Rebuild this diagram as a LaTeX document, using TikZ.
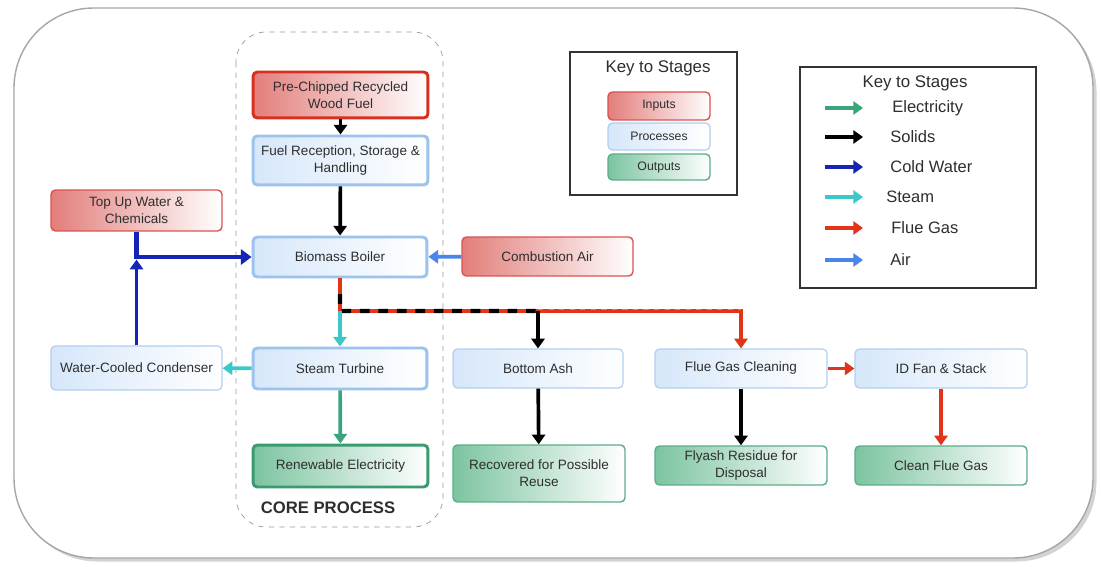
\documentclass[tikz,border=0pt]{standalone}
\usepackage{fontspec}
\setmainfont{Liberation Sans}
\usetikzlibrary{arrows.meta, positioning, shadows, calc}

\definecolor{inred}{HTML}{D9534F}
\definecolor{indark}{HTML}{D8301E}
\definecolor{procblue}{HTML}{9CC3EE}
\definecolor{procfill}{HTML}{D6E7FA}
\definecolor{outgreen}{HTML}{5BAE88}
\definecolor{outdark}{HTML}{3A9A70}
\definecolor{outfill}{HTML}{7CC4A0}
\definecolor{elecc}{HTML}{3AA57A}
\definecolor{coldc}{HTML}{1424B4}
\definecolor{steamc}{HTML}{3CC8C8}
\definecolor{fluec}{HTML}{E2341A}
\definecolor{airc}{HTML}{4A86E8}
\definecolor{txt}{HTML}{2E2E2E}

\tikzset{
  stage/.style={rounded corners=2.5pt, align=center, text=txt, inner sep=2pt,
    minimum width=3.44cm, minimum height=0.8cm, font=\fontsize{7.7}{9.5}\selectfont},
  inbox/.style={stage, draw=inred, line width=0.8pt, left color=inred!75, right color=white},
  procbox/.style={stage, draw=procblue!80, line width=0.7pt, left color=procfill, right color=white},
  outbox/.style={stage, draw=outgreen, line width=0.8pt, left color=outfill, right color=white},
  core/.style={line width=1.7pt},
  flow/.style={line width=2.1pt, -{Triangle[length=5.5pt, width=7.5pt]}},
  keytitle/.style={font=\fontsize{9.6}{11}\selectfont, text=txt},
  keylabel/.style={font=\fontsize{9.4}{11}\selectfont, text=txt, anchor=west, inner sep=0pt}
}

\begin{document}
\begin{tikzpicture}[x=0.02cm, y=-0.02cm]
    \useasboundingbox (0,0) rectangle (1101,567);
    \draw[black!35, line width=0.8pt, fill=white, rounded corners=1.6cm,
          drop shadow={shadow xshift=2pt, shadow yshift=-2pt, opacity=0.35}] (14,8) rectangle (1093,558);

    % core process frame
    \draw[black!40, dashed, rounded corners=0.6cm] (236,32) rectangle (443,527);
    \node[font=\bfseries\fontsize{9.5}{11}\selectfont, text=txt] (corelbl) at (328,508) {CORE PROCESS};

    % stages
    \node[inbox, core, draw=indark, minimum width=3.5cm, minimum height=0.92cm] (fuel) at (340.5,95) {Pre-Chipped Recycled\\Wood Fuel};
    \node[procbox, core, draw=procblue, minimum width=3.5cm, minimum height=0.98cm] (recep) at (340.5,160.5) {Fuel Reception, Storage \&\\Handling};
    \node[procbox, core, draw=procblue, minimum width=3.48cm] (boiler) at (340,257) {Biomass Boiler};
    \node[procbox, core, draw=procblue, minimum width=3.48cm, minimum height=0.82cm] (turbine) at (340,368.5) {Steam Turbine};
    \node[outbox, core, draw=outdark, minimum width=3.5cm, minimum height=0.84cm] (elec) at (340.5,466) {Renewable Electricity};

    \node[inbox, minimum width=3.42cm, minimum height=0.82cm] (topup) at (136.5,210.5) {Top Up Water \&\\Chemicals};
    \node[procbox, minimum width=3.42cm, minimum height=0.88cm] (cond) at (136.5,368) {Water-Cooled Condenser};
    \node[inbox, minimum width=3.42cm, minimum height=0.78cm] (air) at (547.5,256.5) {Combustion Air};

    \node[procbox, minimum width=3.4cm, minimum height=0.78cm] (ash) at (538,368.5) {Bottom Ash};
    \node[outbox, minimum height=1.14cm] (recov) at (539,473.5) {Recovered for Possible\\Reuse};
    \node[procbox, minimum height=0.78cm] (fgc) at (741,368.5) {Flue Gas Cleaning};
    \node[procbox, minimum height=0.78cm] (idfan) at (941,368.5) {ID Fan \& Stack};
    \node[outbox, minimum height=0.78cm] (flyash) at (741,465.5) {Flyash Residue for\\Disposal};
    \node[outbox, minimum height=0.78cm] (clean) at (941,465.5) {Clean Flue Gas};

    % flows
    \draw[flow] (fuel) -- (recep);
    \draw[flow] (recep) -- (boiler);
    \draw[flow, airc] (air) -- (boiler);

    \coordinate (cwj) at (topup.south |- boiler.west);
    \draw[line width=2.6pt, coldc, -{Triangle[length=6pt, width=8.5pt]}] (topup.south) |- (boiler.west);
    \draw[flow, coldc, shorten >=1.5pt] (cond.north) -- (cwj);

    \coordinate (split) at (340,311);
    \coordinate (ashj) at (ash.north |- split);
    \coordinate (fgcj) at (fgc.north |- split);
    \draw[flow, fluec, line width=2.5pt] (boiler.south) -- (split) -- (fgcj) -- (fgc.north);
    \draw[line width=2.5pt, black, dash pattern=on 5.5pt off 5pt] ($(boiler.south)!0.48!(split)$) -- (split) -- (ashj);
    \draw[white, opacity=0.35, line width=0.4pt, dash pattern=on 3pt off 3pt] ($(ashj)+(0,-1.2)$) -- ($(fgcj)+(0,-1.2)$);
    \draw[flow] (ashj) -- (ash.north);
    \draw[flow, steamc] (split) -- (turbine.north);

    \draw[flow, steamc] (turbine) -- (cond);
    \draw[flow, elecc] (turbine) -- (elec);
    \draw[flow] (ash) -- (recov);
    \draw[flow] (fgc) -- (flyash);
    \draw[flow, fluec] (fgc) -- (idfan);
    \draw[flow, fluec] (idfan) -- (clean);

    % key to stages (boxes)
    \draw[black!80, line width=0.9pt] (570,52) rectangle (737,195);
    \node[keytitle] (key1) at (658,68) {Key to Stages};
    \node[inbox, minimum width=2.04cm, minimum height=0.56cm, font=\fontsize{7}{8}\selectfont] (kin) at (659,106) {Inputs};
    \node[procbox, minimum width=2.04cm, minimum height=0.54cm, font=\fontsize{7}{8}\selectfont] (kproc) at (659,136.5) {Processes};
    \node[outbox, minimum width=2.04cm, minimum height=0.52cm, font=\fontsize{7}{8}\selectfont] (kout) at (659,167) {Outputs};

    % key to stages (flows)
    \draw[black!80, line width=0.9pt] (800,67) rectangle (1036,288);
    \node[keytitle] (key2) at (915,83) {Key to Stages};
    \foreach \yy/\col/\lx/\lbl [count=\i] in {108/elecc/892/Electricity, 137/black/890/Solids, 167/coldc/890/Cold Water,
        197/steamc/886/Steam, 228/fluec/891/Flue Gas, 260/airc/890/Air}
    {
        \draw[flow, \col] (825,\yy) -- (863,\yy);
        \node[keylabel] (kl\i) at (\lx,\yy) {\lbl};
    }
\end{tikzpicture}
\end{document}
